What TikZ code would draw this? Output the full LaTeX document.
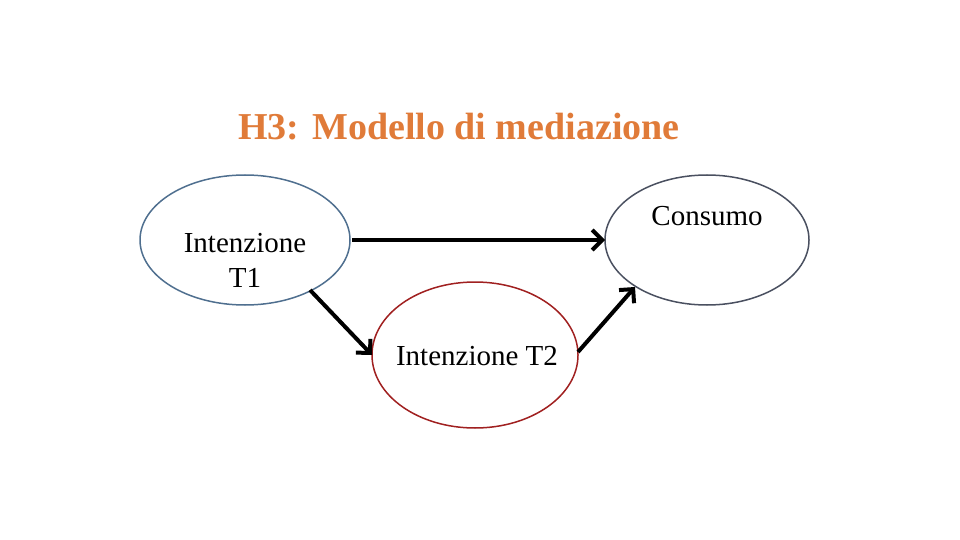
\documentclass[tikz,border=0pt]{standalone}
\usepackage{fontspec}
\setmainfont{Liberation Serif}
\usetikzlibrary{shapes.geometric,arrows.meta}
\definecolor{ttl}{HTML}{E07B39}
\definecolor{eblue}{HTML}{4F6F8F}
\definecolor{egray}{HTML}{4A5060}
\definecolor{ered}{HTML}{A02020}
\tikzset{ell/.style={ellipse,draw,line width=1.5pt},
lbl/.style={font=\fontsize{29}{35}\selectfont,align=center},
conn/.style={line width=4pt,-{Straight Barb[length=10pt,width=20pt,line width=4pt]}}}
\begin{document}
\begin{tikzpicture}[x=1pt,y=-1pt]
\useasboundingbox (0,0) rectangle (960,540);
\node[font=\bfseries\fontsize{38}{44}\selectfont,text=ttl] (t) at (459,127) {H3: Modello di mediazione};
\node[ell,draw=eblue,minimum width=210pt,minimum height=130pt] (a) at (245,240) {};
\node[ell,draw=egray,minimum width=204pt,minimum height=130pt] (c) at (707,240) {};
\node[ell,draw=ered,minimum width=206pt,minimum height=146pt] (m) at (475,355) {};
\node[lbl] (at) at (245,260) {Intenzione\\T1};
\node[lbl] (ct) at (707,216) {Consumo};
\node[lbl] (mt) at (477,356) {Intenzione T2};
\coordinate (a1) at (352,240); \coordinate (c1) at (605,240);
\coordinate (a2) at (310,290); \coordinate (m1) at (372,355);
\coordinate (m2) at (578,352); \coordinate (c2) at (635,287);
\draw[conn] (a1) -- (c1);
\draw[conn] (a2) -- (m1);
\draw[conn] (m2) -- (c2);
\end{tikzpicture}
\end{document}
